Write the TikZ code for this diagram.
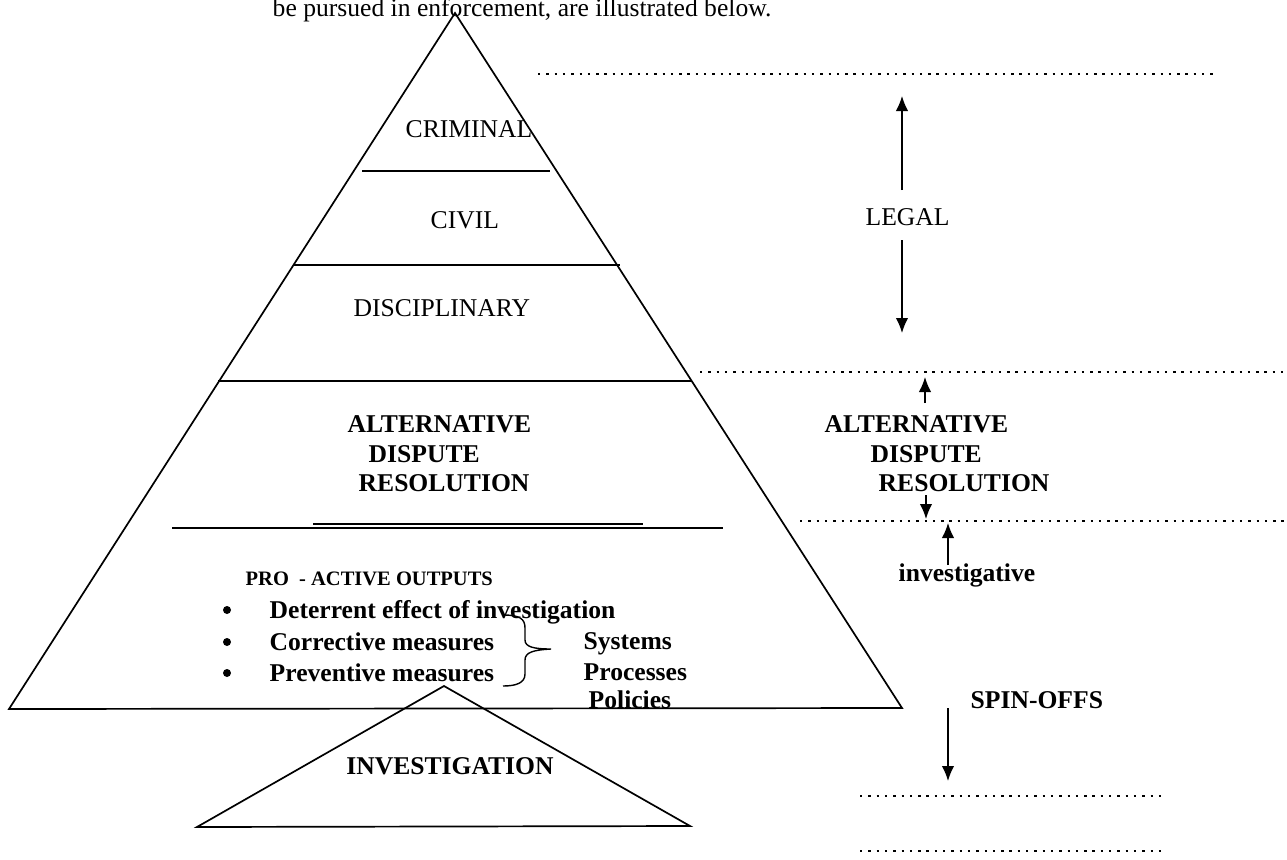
\documentclass[tikz,border=0pt]{standalone}
\usepackage{fontspec}
\setmainfont{Liberation Serif}
\usetikzlibrary{arrows.meta}
\begin{document}
\begin{tikzpicture}[x=1pt,y=-1pt, line width=1.4pt,
  lbl/.style={inner sep=0pt, anchor=base west, font=\fontsize{25.6}{29}\selectfont},
  blbl/.style={inner sep=0pt, anchor=base west, font=\fontsize{25.6}{29}\selectfont\bfseries},
  sblbl/.style={inner sep=0pt, anchor=base west, font=\fontsize{20.5}{24}\selectfont\bfseries},
  dotline/.style={line width=2.6pt, dash pattern=on 2.4pt off 5.9pt},
  arr/.style={line width=1.5pt, -{Latex[length=15pt,width=12.5pt]}},
  tri/.style={line width=1.7pt, line join=miter},
  band/.style={line width=1.6pt},
  bullet/.style={circle, fill=black, inner sep=0pt, minimum size=8pt},
]
\useasboundingbox (0,0) rectangle (1287,859);

% intro text
\node[lbl] (intro) at (272,17) {be pursued in enforcement, are illustrated below.};

% big pyramid
\coordinate (apex) at (455,13);
\coordinate (bl) at (9,709);
\coordinate (br) at (902,708);
\draw[tri] (bl) -- (apex) -- (br) -- cycle;

% bands
\draw[band] (362,171) -- (550,171);
\draw[band] (293,265) -- (620,265);
\draw[band] (218,381) -- (692,381);
\draw[band] (313,524) -- (643,524);
\draw[band] (172,528) -- (723,528);

% level labels
\node[lbl] (crim) at (405,137) {CRIMINAL};
\node[lbl] (civil) at (430,228) {CIVIL};
\node[lbl] (disc) at (353,316) {DISCIPLINARY};
\node[blbl] (adrA) at (347,432) {ALTERNATIVE};
\node[blbl] (adrB) at (368,462) {DISPUTE};
\node[blbl] (adrC) at (358,491) {RESOLUTION};

% pro-active outputs
\node[sblbl] (pro) at (245,585) {PRO \ - ACTIVE OUTPUTS};
\node[bullet] (b1) at (227,610) {};
\node[bullet] (b2) at (227,642) {};
\node[bullet] (b3) at (227,673) {};
\node[blbl] (det) at (269,618) {Deterrent effect of investigation};
\node[blbl] (cor) at (269,650) {Corrective measures};
\node[blbl] (pre) at (269,681) {Preventive measures};
\draw[line width=1.4pt] (503,615) .. controls (520,615) and (525,619) .. (525,628)
  -- (525,640) .. controls (525,647) and (534,649) .. (551,649)
  .. controls (534,650) and (525,652) .. (525,660)
  -- (525,674) .. controls (525,683) and (516,686) .. (503,686);
\node[blbl] (sys) at (583,649) {Systems};
\node[blbl] (proc) at (583,680) {Processes};
\node[blbl] (pol) at (588,708) {Policies};

% investigation triangle
\coordinate (sapex) at (444,686);
\coordinate (sbl) at (197,827);
\coordinate (sbr) at (690,826);
\draw[tri] (sbl) -- (sapex) -- (sbr) -- cycle;
\node[blbl, anchor=base] (inv) at (450,774) {INVESTIGATION};

% right column
\coordinate (d1a) at (538,74);  \coordinate (d1b) at (1215,74);
\coordinate (d2a) at (700,372); \coordinate (d2b) at (1287,372);
\coordinate (d3a) at (800,521); \coordinate (d3b) at (1287,521);
\coordinate (d4a) at (860,796); \coordinate (d4b) at (1165,796);
\coordinate (d5a) at (860,851); \coordinate (d5b) at (1165,851);
\draw[dotline] (d1a) -- (d1b);
\draw[dotline] (d2a) -- (d2b);
\draw[dotline] (d3a) -- (d3b);
\draw[dotline] (d4a) -- (d4b);
\draw[dotline] (d5a) -- (d5b);

\node[lbl] (legal) at (865,225) {LEGAL};
\coordinate (lu1) at (902,190); \coordinate (lu2) at (902,96);
\coordinate (ld1) at (902,240); \coordinate (ld2) at (902,333);
\draw[arr] (lu1) -- (lu2);
\draw[arr] (ld1) -- (ld2);

\node[blbl] (radrA) at (824,432) {ALTERNATIVE};
\node[blbl] (radrB) at (870,462) {DISPUTE};
\node[blbl] (radrC) at (878,491) {RESOLUTION};
\coordinate (au1) at (925,403); \coordinate (au2) at (925,377);
\coordinate (ad1) at (926,495); \coordinate (ad2) at (926,519);
\draw[arr] (au1) -- (au2);
\draw[arr] (ad1) -- (ad2);

\node[blbl] (invest) at (898,581) {investigative};
\coordinate (iu1) at (948,565); \coordinate (iu2) at (948,523);
\draw[arr] (iu1) -- (iu2);

\node[blbl] (spin) at (970,708) {SPIN-OFFS};
\coordinate (sd1) at (948,708); \coordinate (sd2) at (948,781);
\draw[arr] (sd1) -- (sd2);
\end{tikzpicture}
\end{document}
